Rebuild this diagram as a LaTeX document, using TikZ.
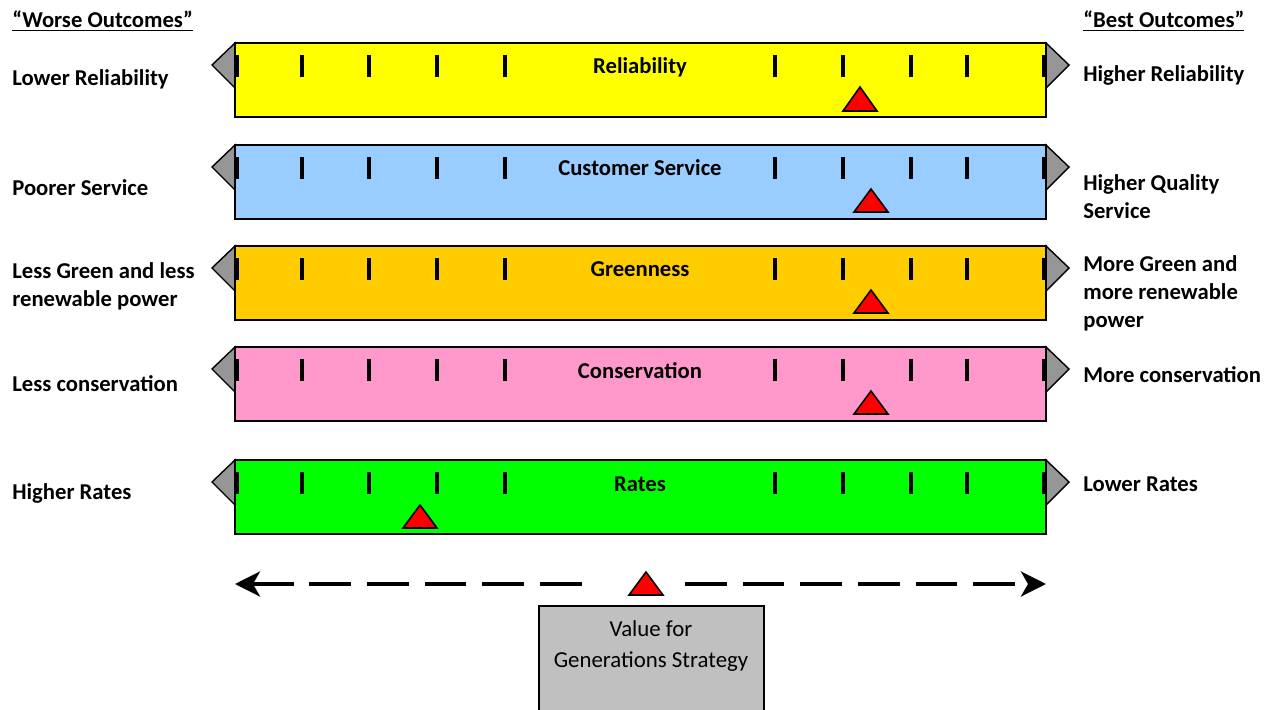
\documentclass[tikz,border=0pt]{standalone}
\usepackage{fontspec}
\setmainfont{Carlito}
\usetikzlibrary{arrows.meta}

\definecolor{relyellow}{RGB}{255,255,0}
\definecolor{servblue}{RGB}{153,204,255}
\definecolor{greenorange}{RGB}{255,204,0}
\definecolor{conspink}{RGB}{255,153,204}
\definecolor{ratesgreen}{RGB}{0,255,0}
\definecolor{endgray}{RGB}{150,150,150}
\definecolor{boxgray}{RGB}{192,192,192}

\tikzset{
  bar/.style={draw=black, line width=1.1pt},
  endtip/.style={fill=endgray, draw=black, line width=0.8pt, line join=miter},
  tickmark/.style={line width=2.7pt},
  marker/.style={fill=red, draw=black, line width=0.9pt, line join=miter},
  lbl/.style={font=\fontsize{12.9}{15.9}\selectfont\bfseries, inner sep=0pt, align=left},
  bartitle/.style={font=\fontsize{12.9}{15}\selectfont\bfseries, inner sep=0pt},
  axis/.style={line width=2.3pt, dash pattern=on 23.8pt off 9pt},
}

\begin{document}
\begin{tikzpicture}[x=0.02cm, y=-0.02cm]
\useasboundingbox (0,0) rectangle (1272,710);

% column headings
\node[lbl, anchor=west] (worst) at (12,21) {\underline{“Worse Outcomes”}};
\node[lbl, anchor=west] (best) at (1083,21) {\underline{“Best Outcomes”}};

% reliability
\draw [endtip]  (235,43) -- (212,65) -- (235,88) -- cycle;
\draw [endtip]  (1046,43) -- (1069,65) -- (1046,88) -- cycle;
\draw [bar, fill=relyellow]  (235,43) rectangle (1046,117);
\foreach \x in {237,302,369,437,505,775,843,911,967,1044}
  \draw [tickmark]  (\x,55) -- (\x,77);
\node[bartitle] (reltitle) at (640,67) {Reliability};
\draw [marker]  (843,111) -- (860,87) -- (877,111) -- cycle;
\node[lbl, anchor=west] (rellow) at (12,79) {Lower Reliability};
\node[lbl, anchor=west] (relhigh) at (1083,75) {Higher Reliability};

% customer service
\draw [endtip]  (235,145) -- (212,167) -- (235,190) -- cycle;
\draw [endtip]  (1046,145) -- (1069,167) -- (1046,190) -- cycle;
\draw [bar, fill=servblue]  (235,145) rectangle (1046,219);
\foreach \x in {237,302,369,437,505,775,843,911,967,1044}
  \draw [tickmark]  (\x,157) -- (\x,179);
\node[bartitle] (servtitle) at (640,168) {Customer Service};
\draw [marker]  (854,212) -- (871,189) -- (888,212) -- cycle;
\node[lbl, anchor=west] (servlow) at (12,188) {Poorer Service};
\node[lbl, anchor=west] (servhigh) at (1083,197) {Higher Quality\\Service};

% greenness
\draw [endtip]  (235,246) -- (212,268) -- (235,291) -- cycle;
\draw [endtip]  (1046,246) -- (1069,268) -- (1046,291) -- cycle;
\draw [bar, fill=greenorange]  (235,246) rectangle (1046,320);
\foreach \x in {237,302,369,437,505,775,843,911,967,1044}
  \draw [tickmark]  (\x,258) -- (\x,280);
\node[bartitle] (greentitle) at (640,269) {Greenness};
\draw [marker]  (854,313) -- (871,290) -- (888,313) -- cycle;
\node[lbl, anchor=west] (greenlow) at (12,286) {Less Green and less\\renewable power};
\node[lbl, anchor=west] (greenhigh) at (1083,293) {More Green and\\more renewable\\power};

% conservation
\draw [endtip]  (235,347) -- (212,369) -- (235,392) -- cycle;
\draw [endtip]  (1046,347) -- (1069,369) -- (1046,392) -- cycle;
\draw [bar, fill=conspink]  (235,347) rectangle (1046,421);
\foreach \x in {237,302,369,437,505,775,843,911,967,1044}
  \draw [tickmark]  (\x,359) -- (\x,381);
\node[bartitle] (constitle) at (640,371) {Conservation};
\draw [marker]  (854,414) -- (871,391) -- (888,414) -- cycle;
\node[lbl, anchor=west] (conslow) at (12,384) {Less conservation};
\node[lbl, anchor=west] (conshigh) at (1083,375) {More conservation};

% rates
\draw [endtip]  (235,460) -- (212,482) -- (235,505) -- cycle;
\draw [endtip]  (1046,460) -- (1069,482) -- (1046,505) -- cycle;
\draw [bar, fill=ratesgreen]  (235,460) rectangle (1046,534);
\foreach \x in {237,302,369,437,505,775,843,911,967,1044}
  \draw [tickmark]  (\x,472) -- (\x,494);
\node[bartitle] (ratestitle) at (640,484) {Rates};
\draw [marker]  (403,528) -- (420,505) -- (437,528) -- cycle;
\node[lbl, anchor=west] (rateshigh) at (12,493) {Higher Rates};
\node[lbl, anchor=west] (rateslow) at (1083,484) {Lower Rates};

% overall scale with the strategy marker
\coordinate (axisL) at (235,584);
\coordinate (axisML) at (585,584);
\coordinate (axisMR) at (685,584);
\coordinate (axisR) at (1046,584);
\draw [axis, {Stealth[length=0.5cm, width=0.5cm, inset=0.14cm]}-]  (axisL) -- (axisML);
\draw [axis, -{Stealth[length=0.5cm, width=0.5cm, inset=0.14cm]}]  (axisMR) -- (axisR);
\draw [marker]  (629,595) -- (646,572) -- (663,595) -- cycle;

\draw [fill=boxgray, line width=1.1pt]  (539,606) rectangle (764,714);
\node[font=\fontsize{13}{18}\selectfont, align=center, inner sep=0pt] (strategy) at (651,646) {Value for\\Generations Strategy};

\end{tikzpicture}
\end{document}
